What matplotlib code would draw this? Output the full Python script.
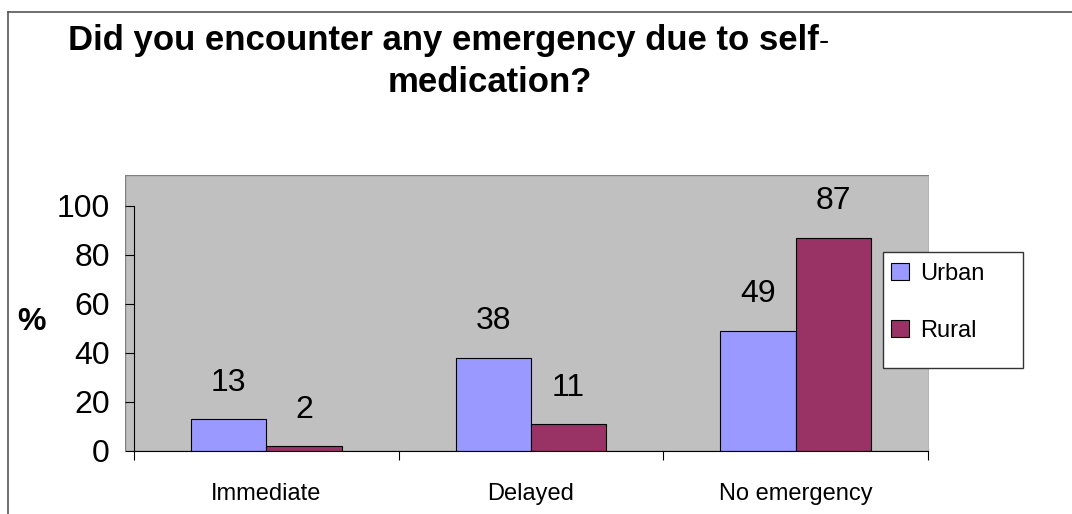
import numpy as np
import matplotlib
matplotlib.use("Agg")
import matplotlib.pyplot as plt
from matplotlib.patches import Rectangle
from matplotlib.lines import Line2D

plt.rcParams['font.family'] = ['Liberation Sans', 'DejaVu Sans']

# data
categories = ["Immediate", "Delayed", "No emergency"]
urban = [13, 38, 49]
rural = [2, 11, 87]
series_names = ["Urban", "Rural"]
yticks = [0, 20, 40, 60, 80, 100]

W, H = 1072, 514
fig = plt.figure(figsize=(W / 100, H / 100), dpi=100)

def fx(px):
    return px / W

def fy(py):
    return 1 - py / H

# outer chart border (left + top only visible)
fig.add_artist(Line2D([fx(8), fx(8)], [0, fy(12)], color="#555555", lw=1.2))
fig.add_artist(Line2D([fx(8), 1], [fy(12), fy(12)], color="#555555", lw=1.2))

# plot area
ax = fig.add_axes([fx(125), fy(451), fx(928.7) - fx(125), fy(175) - fy(451)])
ax.set_facecolor("none")
ax.add_patch(Rectangle((0, 0), 1, 1, transform=ax.transAxes, facecolor="#C0C0C0",
                       edgecolor="#808080", lw=1, zorder=0))

x = np.arange(len(categories))
w = 0.285
b1 = ax.bar(x - w / 2, urban, w, color="#9999FF", edgecolor="black", lw=0.8,
            label=series_names[0], zorder=2)
b2 = ax.bar(x + w / 2, rural, w, color="#993366", edgecolor="black", lw=0.8,
            label=series_names[1], zorder=2)

for bars, vals in ((b1, urban), (b2, rural)):
    for r, v in zip(bars, vals):
        ax.annotate(str(v), (r.get_x() + r.get_width() / 2, v), xytext=(0, 20.5),
                    textcoords="offset points", ha="center", va="baseline",
                    fontsize=23)

ax.set_xlim(-0.534, 2.503)
ax.set_ylim(0, 112.5)

for s in ("top", "right"):
    ax.spines[s].set_visible(False)
ax.spines["left"].set_position(("data", -0.5))
ax.spines["left"].set_bounds(0, 100)
ax.spines["bottom"].set_bounds(-0.5, 2.5)
ax.spines["left"].set_zorder(3)
ax.spines["bottom"].set_zorder(3)

ax.set_yticks(yticks)
ax.tick_params(axis="y", direction="out", length=6.5, width=0.8, labelsize=23, pad=10.8)
ax.set_xticks([-0.5, 0.5, 1.5, 2.5])
ax.set_xticklabels([])
ax.set_xticks(x, minor=True)
ax.set_xticklabels(categories, minor=True)
ax.tick_params(axis="x", which="major", direction="out", length=6.5, width=0.8)
ax.tick_params(axis="x", which="minor", length=0, labelsize=17, pad=23)

fig.text(fx(32), fy(322), "%", fontsize=23, fontweight="bold", ha="center", va="center")

# title
t1 = fig.text(fx(68), fy(50), "Did you encounter any emergency due to self",
              fontsize=25, fontweight="bold", ha="left", va="baseline")
ax.annotate("-", xy=(1, 0), xycoords=t1, ha="left", va="bottom", fontsize=22,
            annotation_clip=False)
fig.text(fx(489.5), fy(92), "medication?", fontsize=25, fontweight="bold",
         ha="center", va="baseline")

# legend
fig.add_artist(Rectangle((fx(882.7), fy(367.7)), fx(1023.3) - fx(882.7),
                         fy(251.7) - fy(367.7), transform=fig.transFigure,
                         facecolor="white", edgecolor="#333333", lw=1, zorder=4))
fig.legend(handles=[b1, b2], loc="upper left", bbox_to_anchor=(fx(890.7), fy(263)),
           frameon=False, fontsize=17, borderpad=0, handlelength=0.79,
           handleheight=0.75, handletextpad=0.45, labelspacing=1.48,
           borderaxespad=0)

fig.savefig("out.png", dpi=100)
